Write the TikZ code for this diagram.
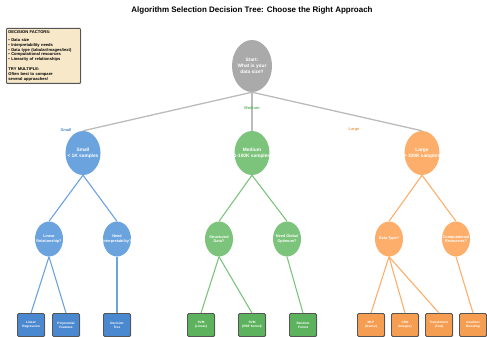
\documentclass[tikz,border=0pt]{standalone}
\usepackage{fontspec}
\setmainfont{Liberation Sans}
\usetikzlibrary{shapes.geometric,shadows}
\definecolor{rootc}{HTML}{AAAAAA}
\definecolor{bluel}{HTML}{6AA3DE}
\definecolor{blued}{HTML}{4A88CF}
\definecolor{greenl}{HTML}{7CC47C}
\definecolor{greend}{HTML}{5DB35D}
\definecolor{orangel}{HTML}{FDAE6B}
\definecolor{oranged}{HTML}{F59D50}
\definecolor{beige}{HTML}{F7E8C9}
\definecolor{edgegray}{HTML}{BBBBBB}
\definecolor{bordergray}{HTML}{555555}
\tikzset{
  decnode/.style={ellipse, draw=none, inner sep=-7pt, text=white, font=\bfseries\fontsize{4.8}{5.8}\selectfont, align=center},
  subnode/.style={ellipse, draw=none, inner sep=-7pt, text=white, font=\bfseries\fontsize{3.8}{4.6}\selectfont, align=center, minimum width=28, minimum height=35},
  leafnode/.style={rectangle, rounded corners=1.2pt, draw=bordergray, line width=0.9pt, inner sep=0pt, text=white, font=\bfseries\fontsize{3.2}{3.9}\selectfont, align=center, minimum width=27, minimum height=23, drop shadow={shadow xshift=0.8pt, shadow yshift=-0.8pt, opacity=0.35}},
  rootedge/.style={draw=edgegray, line width=1.3pt},
  edgeline/.style={line width=1.1pt},
  brlabel/.style={font=\bfseries\fontsize{4}{4.5}\selectfont, inner sep=0.5pt}
}
\begin{document}
\begin{tikzpicture}[x=1pt,y=-1pt]
\useasboundingbox (0,0) rectangle (487,337);
\node[font=\bfseries\fontsize{8}{9}\selectfont] (title) at (252,10) {Algorithm Selection Decision Tree: Choose the Right Approach};

% legend
\node[draw=bordergray, line width=0.9pt, fill=beige, rounded corners=0.8pt, anchor=north west, inner sep=2pt, align=left,
      font=\bfseries\fontsize{4.1}{4.9}\selectfont, text width=70pt,
      drop shadow={shadow xshift=0.8pt, shadow yshift=-0.8pt, opacity=0.35}] (legend) at (6,28)
 {DECISION FACTORS:\\[3pt]
  • Data size\\
  • Interpretability needs\\
  • Data type (tabular/images/text)\\
  • Computational resources\\
  • Linearity of relationships\\[5pt]
  TRY MULTIPLE:\\
  Often best to compare\\
  several approaches!};

% root
\node[decnode, fill=rootc, minimum width=40, minimum height=52] (root) at (252,66) {Start:\\What is your\\data size?};

% level 1
\node[decnode, fill=bluel, minimum width=35, minimum height=44] (small) at (83,153) {Small\\< 1K samples};
\node[decnode, fill=greenl, minimum width=35, minimum height=44] (medium) at (252,153) {Medium\\1-100K samples};
\node[decnode, fill=orangel, minimum width=35, minimum height=44] (large) at (422,153) {Large\\> 100K samples};

\draw[rootedge] (root.south) -- (small.north);
\draw[rootedge] (root.south) -- (medium.north);
\draw[rootedge] (root.south) -- (large.north);
\node[brlabel, text=blued] (lsmall) at (66,130) {Small};
\node[brlabel, text=greend] (lmedium) at (252,108) {Medium};
\node[brlabel, text=oranged] (llarge) at (354,130) {Large};

% level 2
\node[subnode, fill=bluel] (linrel) at (49,239) {Linear\\Relationship?};
\node[subnode, fill=bluel] (interp) at (117,239) {Need\\Interpretability?};
\node[subnode, fill=greenl] (struct) at (219,239) {Structured\\Data?};
\node[subnode, fill=greenl] (glob) at (287,239) {Need Global\\Optimum?};
\node[subnode, fill=orangel] (dtype) at (389,239) {Data Type?};
\node[subnode, fill=orangel] (comp) at (456,239) {Computational\\Resources?};

\draw[edgeline, draw=bluel] (small.south) -- (linrel.north);
\draw[edgeline, draw=bluel] (small.south) -- (interp.north);
\draw[edgeline, draw=greenl] (medium.south) -- (struct.north);
\draw[edgeline, draw=greenl] (medium.south) -- (glob.north);
\draw[edgeline, draw=orangel] (large.south) -- (dtype.north);
\draw[edgeline, draw=orangel] (large.south) -- (comp.north);

% leaves
\node[leafnode, fill=blued] (linreg) at (31,325) {Linear\\Regression};
\node[leafnode, fill=blued] (poly) at (66,325) {Polynomial\\Features};
\node[leafnode, fill=blued] (dtree) at (117,325) {Decision\\Tree};
\node[leafnode, fill=greend] (svml) at (201,325) {SVM\\(Linear)};
\node[leafnode, fill=greend] (svmr) at (252,325) {SVM\\(RBF Kernel)};
\node[leafnode, fill=greend] (rf) at (303,325) {Random\\Forest};
\node[leafnode, fill=oranged] (mlp) at (371,325) {MLP\\(Dense)};
\node[leafnode, fill=oranged] (cnn) at (405,325) {CNN\\(Images)};
\node[leafnode, fill=oranged] (trans) at (439,325) {Transformer\\(Text)};
\node[leafnode, fill=oranged] (gb) at (473,325) {Gradient\\Boosting};

\draw[edgeline, draw=bluel] (linrel.south) -- (linreg.north);
\draw[edgeline, draw=bluel] (linrel.south) -- (poly.north);
\draw[edgeline, draw=bluel] (interp.south) -- (dtree.north);
\draw[edgeline, draw=greenl] (struct.south) -- (svml.north);
\draw[edgeline, draw=greenl] (struct.south) -- (svmr.north);
\draw[edgeline, draw=greenl] (glob.south) -- (rf.north);
\draw[edgeline, draw=orangel] (dtype.south) -- (mlp.north);
\draw[edgeline, draw=orangel] (dtype.south) -- (cnn.north);
\draw[edgeline, draw=orangel] (dtype.south) -- (trans.north);
\draw[edgeline, draw=orangel] (comp.south) -- (gb.north);
\end{tikzpicture}
\end{document}
